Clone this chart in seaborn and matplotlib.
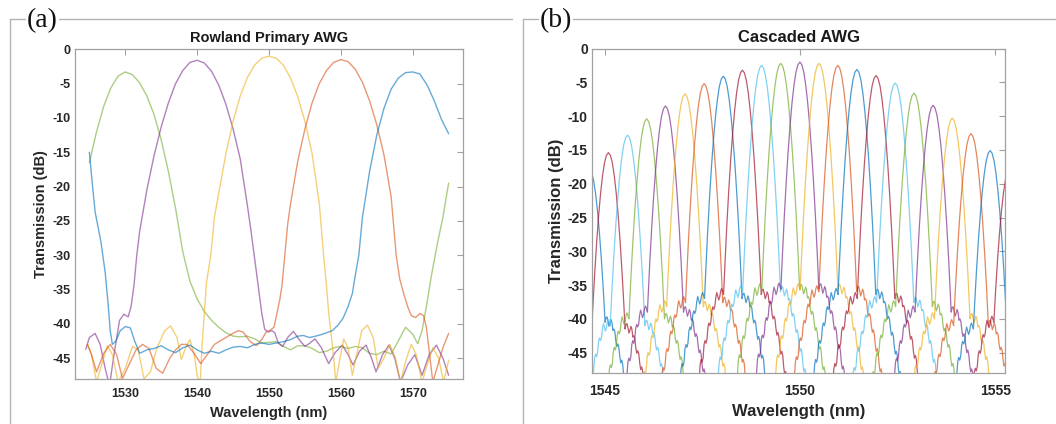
import numpy as np
import pandas as pd
import matplotlib
matplotlib.use("Agg")
import matplotlib.pyplot as plt
import seaborn as sns
from matplotlib.lines import Line2D

# ---------------- Panel (a): Rowland primary AWG (5 channels) ----------------
green_wl = [1525.0, 1526.0, 1527.0, 1528.0, 1529.0, 1530.0, 1531.0, 1532.0, 1533.0, 1534.0,
            1535.0, 1536.0, 1537.0, 1538.0, 1539.0, 1540.0, 1541.0, 1542.0, 1543.0, 1544.0,
            1545.0, 1546.0, 1547.0, 1548.0, 1549.0, 1550.0, 1551.0, 1552.0, 1553.0, 1554.0,
            1555.0, 1556.0, 1557.0, 1558.0, 1559.0, 1560.0, 1561.0, 1562.0, 1563.0, 1564.0,
            1565.0, 1566.0, 1567.0, 1568.0, 1569.0, 1570.0, 1570.7, 1571.3, 1571.9, 1572.6,
            1573.4, 1574.2, 1575.0]
green_db = [-16.5, -12.0, -8.3, -5.6, -3.9, -3.3, -3.7, -4.9, -6.8, -9.5,
            -13.2, -17.8, -23.2, -29.5, -33.8, -36.4, -38.2, -39.5, -40.5, -41.3,
            -41.8, -41.9, -41.8, -42.2, -42.8, -42.7, -42.6, -43.3, -43.8, -43.2,
            -43.2, -43.6, -44.2, -44.0, -43.5, -43.3, -43.6, -43.3, -43.5, -44.3,
            -44.5, -44.0, -44.4, -42.5, -40.5, -41.5, -42.9, -41.0, -37.5, -33.0,
            -28.5, -24.5, -19.5]

purple_wl = [1524.5, 1525.0, 1525.8, 1526.5, 1527.2, 1527.8, 1528.5, 1529.2, 1529.8, 1530.4,
             1530.8, 1531.2, 1531.6, 1532.0, 1532.5, 1533.0, 1534.0, 1535.0, 1536.0, 1537.0,
             1538.0, 1539.0, 1540.0, 1541.0, 1542.0, 1543.0, 1544.0, 1545.0, 1546.0, 1547.0,
             1547.5, 1548.0, 1548.5, 1549.0, 1549.4, 1549.9, 1550.4, 1550.8, 1551.3, 1551.9,
             1552.6, 1553.4, 1554.2, 1555.0, 1555.7, 1556.4, 1557.3, 1558.3, 1559.2, 1560.2,
             1561.0, 1561.7, 1562.6, 1563.5, 1564.2, 1564.9, 1565.8, 1566.7, 1567.5, 1568.3,
             1569.3, 1570.3, 1571.3, 1572.3, 1573.3, 1574.2, 1575.0]
purple_db = [-43.7, -42.0, -41.4, -43.0, -46.5, -49.0, -44.0, -39.5, -38.6, -39.0,
             -37.5, -34.5, -30.0, -26.5, -23.5, -20.5, -15.5, -11.3, -7.8, -5.0,
             -3.1, -1.9, -1.6, -2.0, -3.2, -5.2, -8.0, -11.6, -16.0, -22.8,
             -26.5, -30.5, -34.5, -38.5, -40.8, -41.2, -41.0, -41.3, -42.8, -43.3,
             -42.0, -41.1, -42.3, -43.3, -42.8, -42.2, -43.5, -45.8, -44.2, -43.1,
             -44.5, -46.0, -44.0, -43.1, -44.8, -47.0, -44.5, -43.1, -45.0, -48.5,
             -46.0, -44.5, -47.5, -44.5, -43.1, -45.0, -47.5]

yellow_wl = [1524.8, 1525.3, 1526.0, 1526.7, 1527.5, 1528.2, 1529.0, 1530.0, 1531.0, 1531.8,
             1532.6, 1533.5, 1534.4, 1535.5, 1536.3, 1537.2, 1537.8, 1538.4, 1539.0, 1539.6,
             1540.0, 1540.4, 1540.7, 1541.0, 1541.3, 1541.9, 1542.4, 1543.0, 1544.0, 1545.0,
             1546.0, 1547.0, 1548.0, 1549.0, 1550.0, 1551.0, 1552.0, 1553.0, 1554.0, 1555.0,
             1556.0, 1557.0, 1557.6, 1558.0, 1558.3, 1558.7, 1559.0, 1559.3, 1559.8, 1560.4,
             1561.0, 1561.6, 1562.2, 1562.9, 1563.7, 1564.5, 1565.2, 1566.0, 1566.8, 1567.6,
             1568.3, 1569.0, 1569.8, 1570.5, 1571.3, 1572.0, 1572.8, 1573.6, 1574.3, 1575.0]
yellow_db = [-43.0, -44.5, -48.5, -46.0, -43.2, -44.5, -48.5, -46.5, -43.3, -43.8,
             -48.0, -47.0, -43.5, -41.0, -40.3, -42.0, -45.2, -43.5, -42.3, -44.5,
             -47.5, -49.0, -43.0, -38.5, -34.0, -30.0, -24.5, -21.0, -15.2, -10.5,
             -6.8, -4.1, -2.3, -1.3, -1.0, -1.3, -2.3, -4.2, -6.9, -10.5,
             -15.2, -22.5, -30.0, -34.5, -38.3, -42.0, -45.0, -48.5, -45.5, -42.2,
             -43.5, -47.5, -44.5, -41.0, -40.2, -42.0, -46.5, -45.0, -43.0, -45.0,
             -48.5, -45.5, -43.0, -44.5, -48.5, -46.0, -43.5, -45.0, -48.5, -45.3]

red_wl = [1524.7, 1525.3, 1526.0, 1527.0, 1527.9, 1528.8, 1529.6, 1530.5, 1531.5, 1532.4,
          1533.3, 1534.3, 1535.2, 1536.2, 1537.0, 1537.8, 1538.6, 1539.5, 1540.5, 1541.4,
          1542.4, 1543.2, 1544.0, 1544.8, 1545.7, 1546.4, 1547.3, 1548.2, 1549.0, 1549.6,
          1550.2, 1550.7, 1551.1, 1551.5, 1551.8, 1552.2, 1552.6, 1553.0, 1554.0, 1555.0,
          1556.0, 1557.0, 1558.0, 1559.0, 1560.0, 1561.0, 1562.0, 1563.0, 1564.0, 1565.0,
          1566.0, 1567.0, 1567.7, 1568.2, 1568.8, 1569.3, 1569.8, 1570.4, 1571.0, 1571.5,
          1571.9, 1572.3, 1572.8, 1573.5, 1574.2, 1575.0]
red_db = [-43.0, -44.5, -47.0, -44.3, -43.0, -44.5, -48.0, -46.0, -43.8, -43.0,
          -43.6, -46.5, -47.2, -45.0, -43.8, -43.0, -43.0, -44.2, -45.8, -44.5,
          -43.0, -42.5, -42.0, -41.5, -41.0, -41.2, -42.5, -43.2, -42.3, -41.2,
          -40.9, -40.5, -38.5, -36.5, -34.5, -30.0, -25.5, -22.5, -16.3, -11.6,
          -7.8, -5.0, -3.1, -1.9, -1.5, -1.8, -2.9, -4.8, -7.5, -11.0,
          -15.4, -21.5, -30.0, -33.5, -35.8, -37.5, -38.8, -39.1, -38.5, -38.8,
          -40.5, -44.0, -48.5, -46.0, -43.5, -41.4]

blue_wl = [1525.0, 1525.4, 1525.8, 1526.6, 1527.2, 1527.6, 1527.9, 1528.2, 1528.7, 1529.3,
           1530.0, 1530.7, 1531.3, 1532.0, 1533.0, 1534.0, 1535.0, 1536.0, 1537.0, 1538.0,
           1539.0, 1540.0, 1541.0, 1542.0, 1543.0, 1544.0, 1545.0, 1546.0, 1547.0, 1548.0,
           1549.0, 1550.0, 1551.0, 1552.0, 1553.0, 1554.0, 1554.8, 1555.6, 1556.5, 1557.5,
           1558.8, 1559.6, 1560.3, 1561.0, 1561.6, 1562.0, 1562.5, 1563.0, 1564.0, 1565.0,
           1566.0, 1567.0, 1568.0, 1569.0, 1570.0, 1571.0, 1572.0, 1573.0, 1574.0, 1575.0]
blue_db = [-15.0, -19.5, -23.7, -28.0, -32.5, -37.0, -41.0, -43.0, -42.5, -41.0,
           -40.4, -40.6, -42.5, -44.3, -43.8, -43.6, -43.2, -43.8, -44.2, -43.5,
           -43.1, -43.8, -44.3, -44.0, -44.3, -43.8, -43.4, -43.3, -43.5, -43.0,
           -42.8, -43.0, -42.8, -42.6, -42.3, -41.8, -41.7, -42.0, -41.8, -41.5,
           -41.0, -40.2, -39.2, -37.5, -35.6, -33.0, -30.0, -24.5, -17.8, -12.5,
           -8.6, -5.8, -4.2, -3.4, -3.3, -3.6, -5.2, -7.5, -10.2, -12.3]

# ---------------- Panel (b): cascaded AWG (23 channels) ----------------
casc_center = [1544.62, 1545.10, 1545.59, 1546.08, 1546.56, 1547.06, 1547.55, 1548.04,
               1548.53, 1549.02, 1549.51, 1550.00, 1550.49, 1550.97, 1551.46, 1551.95,
               1552.44, 1552.92, 1553.41, 1553.90, 1554.38, 1554.87, 1555.36]
casc_peak = [-18.0, -15.4, -12.8, -10.4, -8.5, -6.7, -5.2, -4.1, -3.2, -2.5, -2.2, -2.0,
             -2.2, -2.5, -3.1, -4.0, -5.1, -6.6, -8.4, -10.3, -12.6, -15.1, -18.0]
casc_floor = [-40.5, -41.5, -41.0, -40.0, -39.0, -38.2, -37.6, -37.0, -36.4, -36.0, -35.7, -35.6,
              -35.7, -36.0, -36.4, -37.0, -37.6, -38.2, -39.0, -40.0, -41.0, -41.5, -40.5]
# main-lobe shape: offset from centre (nm) vs. drop below peak (dB)
lobe_off = [0.0, 0.05, 0.10, 0.15, 0.20, 0.25, 0.30, 0.35, 0.40, 0.45, 0.50, 0.55, 0.60]
lobe_drop = [0.0, 0.4, 1.5, 3.4, 6.0, 9.3, 13.2, 17.8, 23.0, 29.0, 35.5, 42.0, 48.5]
# side-lobe skirt: offset beyond lobe foot (nm) vs. dB relative to floor
skirt_off = [0.025, 0.050, 0.075, 0.100, 0.125, 0.150, 0.175, 0.200, 0.225, 0.250,
             0.275, 0.300, 0.325, 0.350, 0.375, 0.400, 0.425, 0.450, 0.475, 0.500,
             0.525, 0.550, 0.575, 0.600, 0.625, 0.650, 0.700, 0.800]
skirt_right = [0.7, 0.8, 0.2, -0.6, -0.2, 0.4, 0.0, -1.2, -1.0, -1.4,
               -2.8, -3.6, -3.2, -3.6, -5.0, -6.0, -5.6, -6.2, -7.8, -8.8,
               -8.4, -9.0, -10.8, -11.8, -11.4, -12.2, -16.0, -25.0]
skirt_left = [0.5, 0.9, 0.5, -0.4, -0.8, -0.2, 0.3, -0.5, -1.8, -2.2,
              -1.8, -2.4, -4.0, -4.6, -4.2, -4.8, -6.6, -7.2, -6.8, -7.4,
              -9.4, -10.0, -9.6, -10.4, -12.6, -13.4, -17.0, -26.0]

# ---------------- styling ----------------
sns.set_style("white")
plt.rcParams["font.family"] = ["Liberation Sans", "DejaVu Sans"]
plt.rcParams["font.weight"] = "bold"

M_BLUE = (0.0, 0.447, 0.741)
M_ORANGE = (0.85, 0.325, 0.098)
M_YELLOW = (0.929, 0.694, 0.125)
M_PURPLE = (0.494, 0.184, 0.556)
M_GREEN = (0.466, 0.674, 0.188)
M_CYAN = (0.301, 0.745, 0.933)
M_DRED = (0.635, 0.078, 0.184)
CYCLE = [M_BLUE, M_ORANGE, M_YELLOW, M_PURPLE, M_GREEN, M_CYAN, M_DRED]

TXT = "#262626"
SPINE = "#a0a0a0"

fig = plt.figure(figsize=(10.56, 4.24), dpi=100)
axA = fig.add_axes([75 / 1056, 1 - 378.7 / 424, 388 / 1056, 329.4 / 424])
axB = fig.add_axes([592 / 1056, 1 - 373 / 424, 413 / 1056, 324.5 / 424])

# ---- panel (a) ----
recs = []
for name, wl, db in [("green", green_wl, green_db), ("purple", purple_wl, purple_db),
                     ("yellow", yellow_wl, yellow_db), ("red", red_wl, red_db),
                     ("blue", blue_wl, blue_db)]:
    for a, b in zip(wl, db):
        recs.append((name, a, b))
dfA = pd.DataFrame(recs, columns=["ch", "wl", "db"])
palA = {"green": M_GREEN, "purple": M_PURPLE, "yellow": M_YELLOW,
        "red": M_ORANGE, "blue": M_BLUE}
sns.lineplot(data=dfA, x="wl", y="db", hue="ch", palette=palA, estimator=None,
             sort=False, legend=False, lw=1.0, alpha=0.6, ax=axA)

# ---- panel (b) ----
lo = np.array(lobe_off)
ld = np.array(lobe_drop)
recs = []
palB = {}
nch = len(casc_center)
for i, (c, p, s) in enumerate(zip(casc_center, casc_peak, casc_floor)):
    n = i - (nch // 2)
    key = f"c{i:02d}"
    palB[key] = CYCLE[(10 - n) % 7]
    oc = float(np.interp(p - s, ld, lo))
    keep = lo < oc
    offs = list(lo[keep]) + [oc] + [oc + o for o in skirt_off]
    rv = list(p - ld[keep]) + [s] + [s + v for v in skirt_right]
    lv = list(p - ld[keep]) + [s] + [s + v for v in skirt_left]
    xs = [c - o for o in offs[::-1]] + [c + o for o in offs[1:]]
    ys = lv[::-1] + rv[1:]
    for a, b in zip(xs, ys):
        recs.append((key, a, b))
dfB = pd.DataFrame(recs, columns=["ch", "wl", "db"])
sns.lineplot(data=dfB, x="wl", y="db", hue="ch", palette=palB, estimator=None,
             sort=False, legend=False, lw=0.9, alpha=0.7, ax=axB)

def style(ax, xlim, xticks, title, fs_t, fs_tick, xpad, lpad):
    ax.set_xlim(*xlim)
    ax.set_ylim(-48, 0)
    ax.set_xticks(xticks)
    ax.set_xticklabels([str(t) for t in xticks])
    yt = list(range(0, -50, -5))
    ax.set_yticks(yt)
    ax.set_yticklabels([str(t) for t in yt])
    ax.tick_params(direction="in", top=True, right=True, length=4, width=0.8,
                   colors=SPINE, labelcolor=TXT, labelsize=fs_tick, pad=3)
    ax.tick_params(axis="x", pad=xpad)
    for lab in ax.get_xticklabels() + ax.get_yticklabels():
        lab.set_fontweight("bold")
    for sp in ax.spines.values():
        sp.set_color(SPINE)
        sp.set_linewidth(0.9)
    ax.set_title(title, fontsize=fs_t, fontweight="bold", color="#1a1a1a", pad=5)
    ax.set_xlabel("Wavelength (nm)", fontsize=fs_t, fontweight="bold", color=TXT, labelpad=lpad)
    ax.set_ylabel("Transmission (dB)", fontsize=fs_t, fontweight="bold", color=TXT, labelpad=3)

style(axA, (1523, 1577), [1530, 1540, 1550, 1560, 1570], "Rowland Primary AWG", 10.5, 9, 7, 4)
style(axB, (1544.68, 1555.25), [1545, 1550, 1555], "Cascaded AWG", 12, 10, 8, 4)

# ---- outer frames and panel letters ----
FR = "#b4b4b4"
yt = 1 - 18.5 / 424
fig.add_artist(Line2D([9.5 / 1056, 512 / 1056], [yt, yt], color=FR, lw=1.0))
fig.add_artist(Line2D([9.5 / 1056, 9.5 / 1056], [0, yt], color=FR, lw=1.0))
fig.add_artist(Line2D([522.5 / 1056, 1.0], [yt, yt], color=FR, lw=1.0))
fig.add_artist(Line2D([522.5 / 1056, 522.5 / 1056], [0, yt], color=FR, lw=1.0))
for lab, xp in [("(a)", 27), ("(b)", 540)]:
    fig.text(xp / 1056, yt - 2 / 424, lab, ha="left", va="center", fontsize=20,
             family=["Liberation Serif", "DejaVu Serif"], fontweight="normal", color="#111111",
             bbox=dict(facecolor="white", edgecolor="none", pad=0.5))

fig.savefig("out.png", dpi=100)
